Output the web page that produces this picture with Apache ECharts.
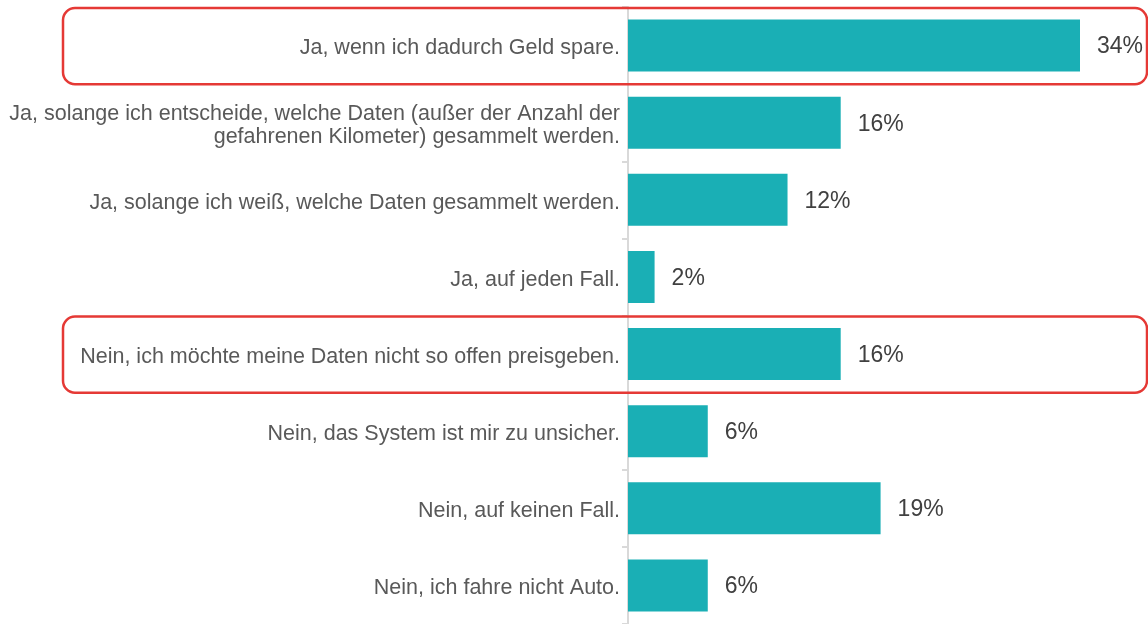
<!DOCTYPE html>
<html>
<head>
<meta charset="utf-8">
<script src="https://cdn.jsdelivr.net/npm/echarts@6/dist/echarts.min.js"></script>
<style>
  html, body { margin: 0; padding: 0; background: #fff; }
  #main { width: 1148px; height: 624px; }
</style>
</head>
<body>
<div id="main"></div>
<script>
const categories = [
  'Ja, wenn ich dadurch Geld spare.',
  'Ja, solange ich entscheide, welche Daten (außer der Anzahl der\ngefahrenen Kilometer) gesammelt werden.',
  'Ja, solange ich weiß, welche Daten gesammelt werden.',
  'Ja, auf jeden Fall.',
  'Nein, ich möchte meine Daten nicht so offen preisgeben.',
  'Nein, das System ist mir zu unsicher.',
  'Nein, auf keinen Fall.',
  'Nein, ich fahre nicht Auto.'
]
const values = [34, 16, 12, 2, 16, 6, 19, 6]
// rows framed in red
const highlighted = [0, 4]

const font = 'Liberation Sans, Arial, sans-serif'
const chart = echarts.init(document.getElementById('main'))

const option = {
  animation: false,
  grid: {
    left: 628,
    right: 68,
    top: 7,
    bottom: 0
  },
  xAxis: {
    type: 'value',
    min: 0,
    max: 34,
    show: false
  },
  yAxis: {
    type: 'category',
    inverse: true,
    data: categories,
    axisLine: {show: true, lineStyle: {color: '#d9d9d9', width: 2}},
    axisTick: {show: true, length: 6, lineStyle: {color: '#d9d9d9', width: 2}},
    axisLabel: {
      margin: 8,
      // nudge the text a few pixels down, like the original
      formatter: v => '{gap|}\n' + v.split('\n').map(l => '{t|' + l + '}').join('\n'),
      rich: {
        gap: {height: 6, lineHeight: 6, fontSize: 1},
        t: {color: '#595959', fontSize: 21.5, lineHeight: 22.5, fontFamily: font}
      }
    }
  },
  series: [
    {
      type: 'bar',
      data: values,
      barWidth: 52,
      itemStyle: {color: '#1aafb5'},
      label: {
        show: true,
        position: 'right',
        distance: 17,
        formatter: '{gap|}\n{v|{c}%}',
        rich: {
          gap: {height: 3, lineHeight: 3, fontSize: 1},
          v: {color: '#404040', fontSize: 23, fontFamily: font}
        }
      }
    }
  ]
}
chart.setOption(option)

// frames around the highlighted rows, placed from the category scale
const c0 = chart.convertToPixel({yAxisIndex: 0}, categories[0])
const c1 = chart.convertToPixel({yAxisIndex: 0}, categories[1])
const band = c1 - c0
chart.setOption({
  graphic: highlighted.map(i => {
    const cy = chart.convertToPixel({yAxisIndex: 0}, categories[i])
    return {
      type: 'rect',
      shape: {x: 63, y: cy - band / 2 + 1, width: 1084, height: band - 1, r: 12},
      style: {fill: 'none', stroke: '#e53935', lineWidth: 2.5},
      z: 10
    }
  })
})
</script>
</body>
</html>
